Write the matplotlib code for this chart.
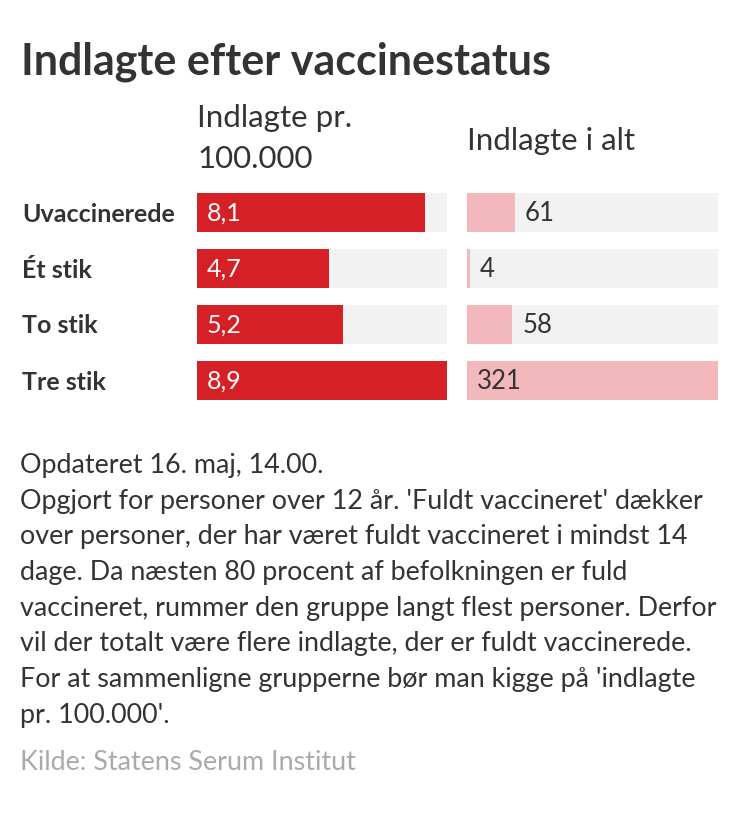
import matplotlib.pyplot as plt

W, H = 750, 819

groups = ["Uvaccinerede", "Ét stik", "To stik", "Tre stik"]
per_100k = [8.1, 4.7, 5.2, 8.9]
per_100k_labels = ["8,1", "4,7", "5,2", "8,9"]
total = [61, 4, 58, 321]
total_labels = ["61", "4", "58", "321"]

title = "Indlagte efter vaccinestatus"
col_titles = ["Indlagte pr.", "100.000", "Indlagte i alt"]
notes = [
    "Opdateret 16. maj, 14.00.",
    "Opgjort for personer over 12 år. 'Fuldt vaccineret' dækker",
    "over personer, der har været fuldt vaccineret i mindst 14",
    "dage. Da næsten 80 procent af befolkningen er fuld",
    "vaccineret, rummer den gruppe langt flest personer. Derfor",
    "vil der totalt være flere indlagte, der er fuldt vaccinerede.",
    "For at sammenligne grupperne bør man kigge på 'indlagte",
    "pr. 100.000'.",
]
source = "Kilde: Statens Serum Institut"

plt.rcParams['font.family'] = ['Lato', 'DejaVu Sans']
dark = "#333333"

fig = plt.figure(figsize=(W / 100, H / 100), dpi=100)
fig.patch.set_facecolor("white")


def px(x, y):
    return x / W, 1 - y / H


fig.text(*px(21, 74), title, fontsize=31, fontweight="bold", color=dark, va="baseline")

top, bottom = 193, 400
ax_pos = [(197, 447), (467, 718)]
axes = []
for (x0, x1) in ax_pos:
    ax = fig.add_axes([x0 / W, 1 - bottom / H, (x1 - x0) / W, (bottom - top) / H])
    ax.set_axis_off()
    axes.append(ax)

bh = 39 / 56
ypos = list(range(len(groups)))

# left: per 100.000
ax = axes[0]
mx = max(per_100k)
ax.barh(ypos, [mx] * 4, height=bh, color="#f2f2f2")
ax.barh(ypos, per_100k, height=bh, color="#d52025")
ax.set_xlim(0, mx)
ax.set_ylim(3 + bh / 2, -bh / 2)
for y, lab in zip(ypos, per_100k_labels):
    ax.annotate(lab, (0, y), xytext=(10, -1), textcoords="offset pixels",
                va="center", ha="left", color="white", fontsize=18)

# right: totals
ax = axes[1]
mx = max(total)
ax.barh(ypos, [mx] * 4, height=bh, color="#f2f2f2")
ax.barh(ypos, total, height=bh, color="#f3b8bb")
ax.set_xlim(0, mx)
ax.set_ylim(3 + bh / 2, -bh / 2)
for y, v, lab in zip(ypos, total, total_labels):
    xs = 0 if v > mx * 0.5 else v
    ax.annotate(lab, (xs, y), xytext=(10, -1), textcoords="offset pixels",
                va="center", ha="left", color=dark, fontsize=18.5)

# row labels
for y, g in zip(ypos, groups):
    fig.text(*px(22, top + 21 + y * 56), g, fontsize=18, fontweight="bold",
             color=dark, va="center")

fig.text(*px(197, 127), col_titles[0], fontsize=22.5, color=dark, va="baseline")
fig.text(*px(197, 168), col_titles[1], fontsize=22.5, color=dark, va="baseline")
fig.text(*px(467, 150), col_titles[2], fontsize=22.5, color=dark, va="baseline")

for i, line in enumerate(notes):
    fig.text(*px(20, 473 + i * 35.7), line, fontsize=19.4, color=dark, va="baseline")
fig.text(*px(20, 770), source, fontsize=19.4, color="#aaaaaa", va="baseline")

fig.savefig("out.png", dpi=100)
